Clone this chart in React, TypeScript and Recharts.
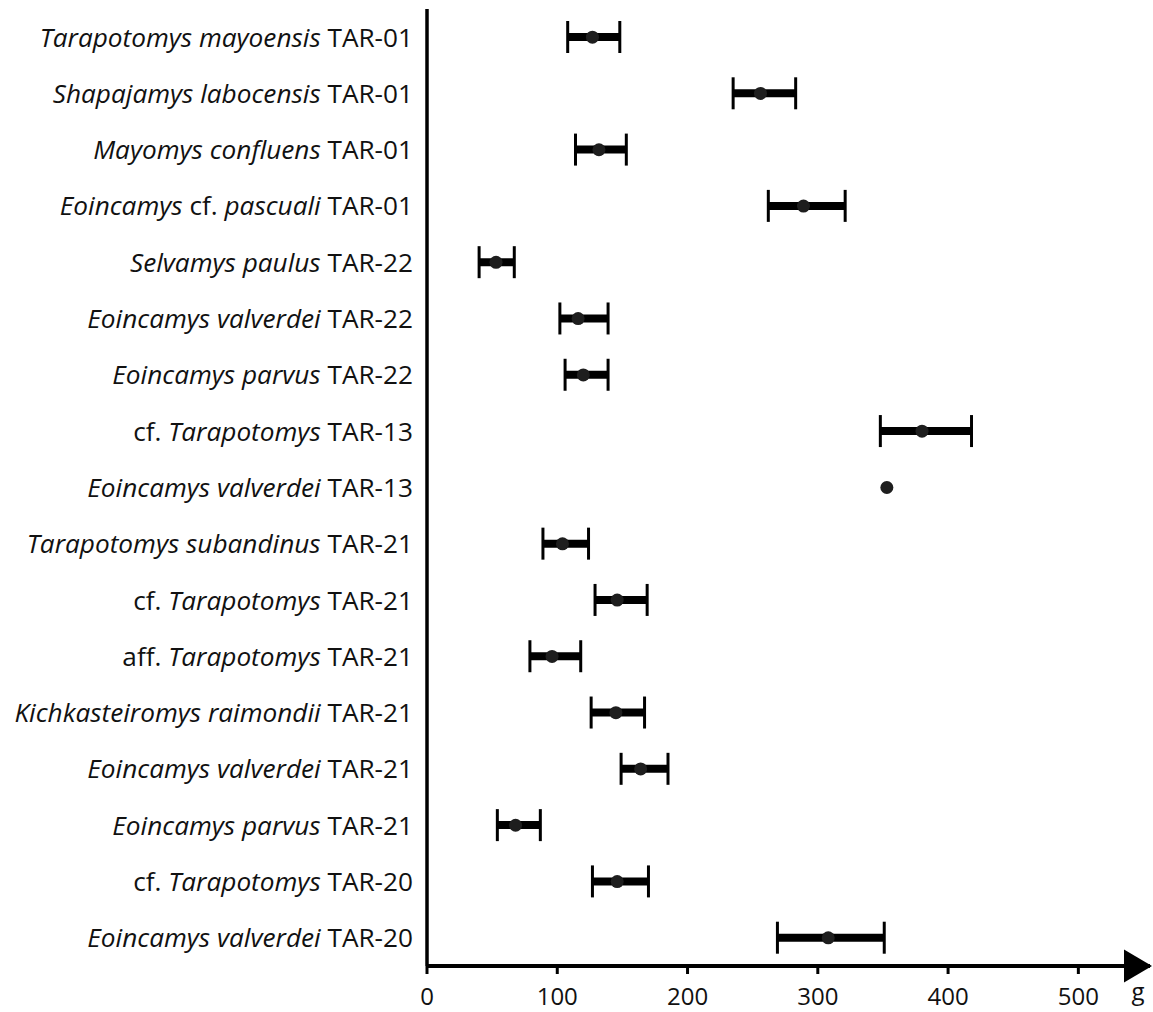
import { ComposedChart, Bar, Line, XAxis, YAxis } from "recharts";

// body mass estimates (g), top row first
const labels = [
  "Tarapotomys mayoensis TAR-01",
  "Shapajamys labocensis TAR-01",
  "Mayomys confluens TAR-01",
  "Eoincamys cf. pascuali TAR-01",
  "Selvamys paulus TAR-22",
  "Eoincamys valverdei TAR-22",
  "Eoincamys parvus TAR-22",
  "cf. Tarapotomys TAR-13",
  "Eoincamys valverdei TAR-13",
  "Tarapotomys subandinus TAR-21",
  "cf. Tarapotomys TAR-21",
  "aff. Tarapotomys TAR-21",
  "Kichkasteiromys raimondii TAR-21",
  "Eoincamys valverdei TAR-21",
  "Eoincamys parvus TAR-21",
  "cf. Tarapotomys TAR-20",
  "Eoincamys valverdei TAR-20",
];
const lows = [108, 235, 114, 262, 40, 102, 106, 348, null, 89, 129, 79, 126, 149, 54, 127, 269];
const means = [127, 256, 132, 289, 53, 116, 120, 380, 353, 104, 146, 96, 145, 164, 68, 146, 308];
const highs = [148, 283, 153, 321, 67, 139, 139, 418, null, 124, 169, 118, 167, 185, 87, 170, 351];
const xTicks = [0, 100, 200, 300, 400, 500];

const data = labels.map((name, i) => ({
  name,
  low: lows[i],
  mean: means[i],
  high: highs[i],
}));

const FONT = "'Open Sans', sans-serif";

const isPlain = (w: string) => w === "cf." || w === "aff." || w.startsWith("TAR-");

function TaxonTick({ x, y, payload }: any) {
  const words = String(payload.value).split(" ");
  return (
    <text
      x={x}
      y={y}
      dy="0.36em"
      textAnchor="end"
      fontFamily={FONT}
      fontSize={26.2}
      fill="#111"
      style={{ whiteSpace: "pre" }}
    >
      {words.map((w, i) => (
        <tspan key={i} fontStyle={isPlain(w) ? "normal" : "italic"}>
          {(i ? " " : "") + w}
        </tspan>
      ))}
    </text>
  );
}

function MassTick({ x, y, payload }: any) {
  return (
    <text x={x} y={y} dy={29} textAnchor="middle" fontFamily={FONT} fontSize={24} fill="#111">
      {payload.value}
    </text>
  );
}

function AxisArrow({ viewBox }: any) {
  if (!viewBox) return null;
  const tip = viewBox.x + viewBox.width + 2;
  const cy = viewBox.y;
  return (
    <g>
      <polygon points={`${tip - 28},${cy - 16.5} ${tip},${cy} ${tip - 28},${cy + 16.5}`} fill="#000" />
      <text x={tip - 14} y={cy + 34} textAnchor="middle" fontFamily={FONT} fontSize={24} fill="#111">
        g
      </text>
    </g>
  );
}

function RangeBar(props: any) {
  const { x, y, width, height, payload } = props;
  if (payload.low == null || payload.high == null) return <g />;
  const cy = y + height / 2;
  return (
    <g>
      <line x1={x} x2={x + width} y1={cy} y2={cy} stroke="#000" strokeWidth={8} />
      <line x1={x} x2={x} y1={y} y2={y + height} stroke="#000" strokeWidth={3} />
      <line x1={x + width} x2={x + width} y1={y} y2={y + height} stroke="#000" strokeWidth={3} />
    </g>
  );
}

export default function App() {
  return (
    <div style={{ position: "absolute", left: 0, top: 0, background: "#fff" }}>
      <ComposedChart
        width={1153}
        height={1012}
        data={data}
        layout="vertical"
        margin={{ top: 9, right: 3, left: 0, bottom: 0 }}
      >
        <XAxis
          type="number"
          domain={[0, 555]}
          ticks={xTicks}
          height={46}
          axisLine={{ stroke: "#000", strokeWidth: 4 }}
          tickLine={{ stroke: "#000", strokeWidth: 3 }}
          tickSize={8}
          tickMargin={2}
          tick={<MassTick />}
          label={<AxisArrow />}
        />
        <YAxis
          type="category"
          dataKey="name"
          width={427}
          axisLine={{ stroke: "#000", strokeWidth: 3.5 }}
          tickLine={false}
          tickSize={0}
          tickMargin={14}
          interval={0}
          tick={<TaxonTick />}
        />
        <Bar
          dataKey={(d: any) => (d.low == null ? null : [d.low, d.high])}
          barSize={32}
          shape={<RangeBar />}
          isAnimationActive={false}
        />
        <Line
          dataKey="mean"
          stroke="none"
          dot={{ r: 6.5, fill: "#1e1e1e", stroke: "none" }}
          activeDot={false}
          isAnimationActive={false}
        />
      </ComposedChart>
    </div>
  );
}
